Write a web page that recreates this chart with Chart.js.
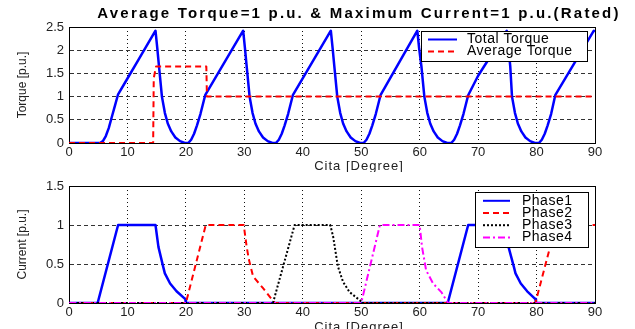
<!DOCTYPE html>
<html>
<head>
<meta charset="utf-8">
<script src="https://cdn.jsdelivr.net/npm/chart.js@4.4.1/dist/chart.umd.min.js"></script>
<style>
  body { margin: 0; background: #fff; }
  .box { position: absolute; left: 0; width: 635px; }
  #topBox { top: 0; height: 172px; }
  #botBox { top: 172px; height: 157px; }
</style>
</head>
<body>
<div class="box" id="topBox"><canvas id="torque"></canvas></div>
<div class="box" id="botBox"><canvas id="current"></canvas></div>
<script>
// ticks
const degTicks = [0, 10, 20, 30, 40, 50, 60, 70, 80, 90];
const torqueTicks = [0, 0.5, 1, 1.5, 2, 2.5];
const currentTicks = [0, 0.5, 1, 1.5];

// total torque
const totalDeg = [0, 5.3, 5.8, 6.3, 6.8, 7.3, 7.9, 8.4, 10, 12, 14.8, 15.1, 15.4, 15.9, 16.4, 16.9, 17.5, 18.2, 19.0, 19.8,
  20.4, 20.9, 21.4, 21.9, 22.5, 23.3, 29.8, 30.1, 30.4, 30.9, 31.4, 31.9, 32.5, 33.2, 34.0, 34.8,
  35.4, 35.9, 36.4, 36.9, 37.5, 38.3, 44.8, 45.1, 45.4, 45.9, 46.4, 46.9, 47.5, 48.2, 49.0, 49.8,
  50.4, 50.9, 51.4, 51.9, 52.5, 53.3, 59.6, 59.9, 60.3, 60.8, 61.3, 61.8, 62.4, 63.1, 63.9, 64.7,
  65.4, 65.9, 66.4, 66.9, 67.5, 68.3, 70, 74.9, 75.2, 75.5, 75.8, 76.3, 76.8, 77.4, 78.1, 78.9, 79.7,
  80.4, 80.9, 81.4, 81.9, 82.5, 83.2, 89.8, 90];
const totalVal = [0, 0, 0.04, 0.15, 0.32, 0.55, 0.82, 1.05, 1.39, 1.82, 2.42, 2.05, 1.65, 1.0, 0.65, 0.42, 0.25, 0.12, 0.04, 0,
  0, 0.07, 0.2, 0.38, 0.63, 1.03, 2.42, 2.05, 1.65, 1.0, 0.65, 0.42, 0.25, 0.12, 0.04, 0,
  0, 0.07, 0.2, 0.38, 0.63, 1.03, 2.42, 2.05, 1.65, 1.0, 0.65, 0.42, 0.25, 0.12, 0.04, 0,
  0, 0.07, 0.2, 0.38, 0.63, 1.03, 2.42, 2.05, 1.65, 1.0, 0.65, 0.42, 0.25, 0.12, 0.04, 0,
  0, 0.07, 0.2, 0.38, 0.63, 1.03, 1.45, 2.42, 2.05, 1.65, 1.0, 0.65, 0.42, 0.25, 0.12, 0.04, 0,
  0, 0.07, 0.2, 0.38, 0.63, 1.03, 2.42, 2.4];

// average torque
const avgDeg = [0, 14.4, 14.5, 14.9, 23.5, 23.6, 90];
const avgVal = [0, 0, 1.4, 1.65, 1.65, 1.0, 1.0];

// phase currents
const phase1Deg = [0, 4.9, 8.4, 14.8, 15.3, 16.1, 16.4, 17.3, 18.4, 19.9, 20, 64.8, 68.3, 74.8, 75.2, 76.1, 76.4, 77.3, 78.4, 79.8, 79.9, 90];
const phase1Val = [0, 0, 1, 1, 0.72, 0.47, 0.38, 0.25, 0.15, 0.05, 0, 0, 1, 1, 0.72, 0.47, 0.38, 0.25, 0.15, 0.05, 0, 0];
const phase2Deg = [0, 20, 23.4, 29.9, 30.4, 30.8, 31.5, 33.2, 35.2, 79.8, 83.3, 90];
const phase2Val = [0, 0, 1, 1, 0.72, 0.55, 0.34, 0.19, 0, 0, 1, 1];
const phase3Deg = [0, 34.9, 38.6, 44.7, 45.2, 46.0, 46.9, 48.0, 50.0, 50.1, 90];
const phase3Val = [0, 0, 1, 1, 0.85, 0.47, 0.27, 0.14, 0.02, 0, 0];
const phase4Deg = [0, 50, 53.2, 60, 60.4, 61.1, 62.3, 63.7, 64.7, 64.8, 90];
const phase4Val = [0, 0, 1, 1, 0.72, 0.42, 0.25, 0.14, 0.02, 0, 0];

const FONT = '"Liberation Sans", Arial, sans-serif';
Chart.defaults.font.family = FONT;
Chart.defaults.color = '#222';

const pts = (xs, ys) => xs.map((x, i) => ({ x, y: ys[i] }));

function line(label, xs, ys, color, width, dash, order) {
  return {
    label, data: pts(xs, ys), borderColor: color, borderWidth: width, borderDash: dash,
    pointRadius: 0, fill: false, tension: 0, borderJoinStyle: 'round', order,
  };
}

// axes box, drawn under the lines like matlab
const frame = {
  id: 'frame',
  beforeDatasetsDraw(chart) {
    const { ctx, chartArea: a } = chart;
    ctx.save();
    ctx.strokeStyle = '#000';
    ctx.lineWidth = 1;
    ctx.strokeRect(Math.round(a.left) + 0.5, Math.round(a.top) + 0.5, Math.round(a.width), Math.round(a.height));
    ctx.restore();
  },
};

const boxLegend = {
  id: 'boxLegend',
  afterDatasetsDraw(chart, args, o) {
    const { ctx } = chart;
    ctx.save();
    ctx.fillStyle = '#fff';
    ctx.fillRect(o.x, o.y, o.w, o.h);
    ctx.strokeStyle = '#000';
    ctx.lineWidth = 1;
    ctx.strokeRect(o.x + 0.5, o.y + 0.5, o.w, o.h);
    ctx.font = '14px ' + FONT;
    ctx.letterSpacing = '0.5px';
    ctx.textBaseline = 'middle';
    chart.data.datasets.forEach((ds, i) => {
      const y = o.firstRow + i * o.rowGap;
      ctx.strokeStyle = ds.borderColor;
      ctx.lineWidth = Math.min(ds.borderWidth, 2);
      ctx.setLineDash(ds.borderDash || []);
      ctx.beginPath();
      ctx.moveTo(o.lineX1, y);
      ctx.lineTo(o.lineX2, y);
      ctx.stroke();
      ctx.setLineDash([]);
      ctx.fillStyle = '#000';
      ctx.fillText(ds.label, o.textX, y);
    });
    ctx.restore();
  },
};

const texts = {
  id: 'texts',
  afterDraw(chart, args, o) {
    const { ctx } = chart;
    ctx.save();
    ctx.textAlign = 'center';
    ctx.textBaseline = 'alphabetic';
    o.items.forEach((t) => {
      ctx.font = t.font;
      ctx.letterSpacing = t.spacing;
      ctx.fillStyle = t.color;
      ctx.fillText(t.text, t.x, t.y);
    });
    ctx.restore();
  },
};

function scales(yTicks, yMax, yTitle, xHeight) {
  return {
    x: {
      type: 'linear', min: 0, max: 90,
      afterBuildTicks: (s) => { s.ticks = degTicks.map((v) => ({ value: v })); },
      afterFit: (s) => { s.height = xHeight; },
      ticks: { padding: 2, font: { size: 13 }, color: '#222', callback: (v) => String(v) },
      grid: { color: '#111', lineWidth: 1, drawTicks: false },
      border: { color: '#000', dash: [1, 3] },
    },
    y: {
      min: 0, max: yMax,
      afterBuildTicks: (s) => { s.ticks = yTicks.map((v) => ({ value: v })); },
      afterFit: (s) => { s.width = 69; },
      ticks: { padding: 5, font: { size: 13 }, color: '#222', callback: (v) => String(v) },
      grid: { color: '#333', lineWidth: 1, drawTicks: false },
      border: { color: '#000', dash: [4, 3] },
      title: { display: true, text: yTitle, font: { size: 12 }, color: '#222', padding: { top: 15, bottom: 0 } },
    },
  };
}

new Chart(document.getElementById('torque'), {
  type: 'line',
  data: {
    datasets: [
      line('Total Torque', totalDeg, totalVal, '#0000ff', 2.5, [], 2),
      line('Average Torque', avgDeg, avgVal, '#ff0000', 2, [6, 4], 1),
    ],
  },
  options: {
    responsive: true, maintainAspectRatio: false, animation: false, devicePixelRatio: 1,
    layout: { padding: { top: 27, right: 40, left: 0, bottom: 0 } },
    scales: scales(torqueTicks, 2.5, 'Torque [p.u.]', 29),
    plugins: {
      legend: { display: false },
      tooltip: { enabled: false },
      boxLegend: { x: 421, y: 31, w: 166, h: 30, firstRow: 39.5, rowGap: 12, lineX1: 428, lineX2: 457, textX: 467 },
      texts: {
        items: [
          { text: 'Average Torque=1 p.u. & Maximum Current=1 p.u.(Rated)', x: 359, y: 18, font: 'bold 15px ' + FONT, spacing: '2.2px', color: '#000' },
          { text: 'Cita [Degree]', x: 359, y: 169.5, font: '13px ' + FONT, spacing: '1px', color: '#222' },
        ],
      },
    },
  },
  plugins: [frame, boxLegend, texts],
});

new Chart(document.getElementById('current'), {
  type: 'line',
  data: {
    datasets: [
      line('Phase1', phase1Deg, phase1Val, '#0000ff', 2.5, [], 4),
      line('Phase2', phase2Deg, phase2Val, '#ff0000', 2, [6, 4], 3),
      line('Phase3', phase3Deg, phase3Val, '#000000', 2, [2, 2], 2),
      line('Phase4', phase4Deg, phase4Val, '#ff00ff', 2, [7, 3, 2, 3], 1),
    ],
  },
  options: {
    responsive: true, maintainAspectRatio: false, animation: false, devicePixelRatio: 1,
    layout: { padding: { top: 14, right: 40, left: 0, bottom: 0 } },
    scales: scales(currentTicks, 1.5, 'Current [p.u.]', 26),
    plugins: {
      legend: { display: false },
      tooltip: { enabled: false },
      boxLegend: { x: 475, y: 20, w: 113, h: 55, firstRow: 28.8, rowGap: 12.2, lineX1: 483, lineX2: 510, textX: 522 },
      texts: {
        items: [
          { text: 'Cita [Degree]', x: 359, y: 159, font: '13px ' + FONT, spacing: '1px', color: '#222' },
        ],
      },
    },
  },
  plugins: [frame, boxLegend, texts],
});
</script>
</body>
</html>
